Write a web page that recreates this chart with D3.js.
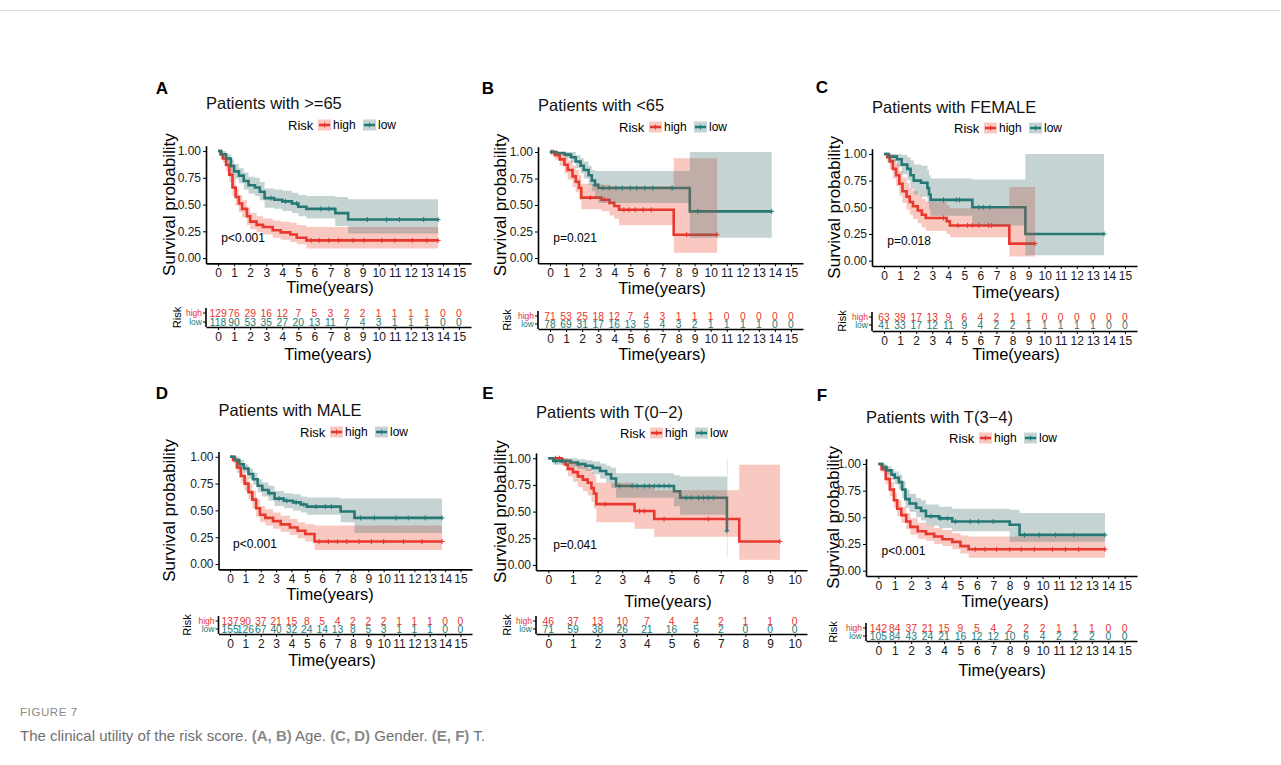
<!DOCTYPE html>
<html>
<head>
<meta charset="utf-8">
<title>Figure 7 - risk score by subgroup</title>
<script src="https://cdn.jsdelivr.net/npm/d3@7"></script>
<style>
body { margin: 0; background: #fff; }
svg text { font-family: "Liberation Sans", Arial, sans-serif; }
</style>
</head>
<body>
<svg id="fig" width="1281" height="765"></svg>
<script>
// colours
const RED = "#E8332E", TEAL = "#1D7B78";
const RED_BAND = "#EC4A30", TEAL_BAND = "#3F6F6E";

const ticks15 = [0,1,2,3,4,5,6,7,8,9,10,11,12,13,14,15];
const ticks10 = [0,1,2,3,4,5,6,7,8,9,10];
const yTicks = [0, 0.25, 0.5, 0.75, 1];

// KM steps: [time, surv, lower, upper]
// A: >=65
const aHigh = [[0,1,1,1],[0.15,0.97,0.94,1],[0.3,0.93,0.89,0.98],[0.5,0.87,0.81,0.93],[0.7,0.78,0.71,0.85],
  [0.9,0.66,0.58,0.74],[1.1,0.57,0.49,0.65],[1.3,0.51,0.43,0.59],[1.5,0.46,0.38,0.54],[1.8,0.39,0.31,0.47],
  [2.0,0.34,0.27,0.42],[2.4,0.31,0.24,0.39],[2.8,0.29,0.22,0.37],[3.4,0.26,0.19,0.35],[3.9,0.24,0.17,0.34],
  [4.5,0.22,0.15,0.33],[4.9,0.19,0.13,0.31],[5.5,0.165,0.09,0.29],[13.7,0.165,0.09,0.29]];
const aLow = [[0,1,1,1],[0.2,0.97,0.94,1],[0.5,0.93,0.88,0.97],[0.8,0.86,0.8,0.92],[1.0,0.81,0.74,0.88],
  [1.3,0.77,0.7,0.84],[1.6,0.72,0.64,0.8],[1.9,0.68,0.6,0.76],[2.3,0.66,0.58,0.75],[2.6,0.62,0.54,0.71],
  [2.9,0.56,0.47,0.65],[3.5,0.545,0.46,0.64],[4.0,0.53,0.44,0.63],[4.6,0.51,0.42,0.61],[5.0,0.48,0.39,0.59],
  [5.5,0.46,0.37,0.58],[7.3,0.42,0.3,0.57],[8.1,0.36,0.23,0.55],[13.7,0.36,0.23,0.55]];
const aHighCens = [5.8,6.3,6.9,7.5,8.4,9.1,10.2,11.0,12.1,13.0,13.7];
const aLowCens = [3.3,4.2,4.9,6.4,6.9,9.3,10.5,11.3,12.8,13.7];
const aRiskHigh = [129,76,29,16,12,7,5,3,2,2,1,1,1,1,0,0];
const aRiskLow = [118,90,53,35,27,20,13,11,7,4,3,1,1,1,0,0];

// B: <65
const bHigh = [[0,1,1,1],[0.3,0.97,0.93,1],[0.6,0.93,0.87,0.99],[0.9,0.88,0.8,0.96],[1.1,0.83,0.74,0.92],
  [1.4,0.77,0.67,0.87],[1.6,0.72,0.62,0.83],[1.8,0.66,0.55,0.78],[1.95,0.57,0.46,0.7],[3.2,0.55,0.44,0.69],
  [3.7,0.52,0.4,0.68],[4.0,0.49,0.37,0.68],[4.3,0.455,0.31,0.68],[7.7,0.22,0.05,0.94],[10.4,0.22,0.05,0.94]];
const bLow = [[0,1,1,1],[0.4,0.99,0.97,1],[0.9,0.975,0.94,1],[1.3,0.95,0.9,1],[1.6,0.91,0.85,0.97],
  [1.9,0.87,0.8,0.94],[2.1,0.83,0.75,0.91],[2.4,0.78,0.69,0.87],[2.6,0.73,0.63,0.83],[2.8,0.69,0.57,0.82],
  [3.0,0.66,0.52,0.82],[8.7,0.44,0.19,1],[13.8,0.44,0.19,1]];
const bHighCens = [0.2,2.5,3.4,4.6,4.9,5.3,5.8,6.3,8.5,10.4];
const bLowCens = [0.1,2.8,3.3,3.7,4.1,4.5,5.0,5.4,5.9,6.4,7.6,9.2,13.8];
const bRiskHigh = [71,53,25,18,12,7,4,3,1,1,1,0,0,0,0,0];
const bRiskLow = [78,69,31,17,16,13,5,4,3,2,1,1,1,1,0,0];

// C: FEMALE
const cHigh = [[0,1,1,1],[0.2,0.97,0.92,1],[0.35,0.93,0.86,1],[0.55,0.86,0.77,0.95],[0.75,0.8,0.7,0.91],
  [0.95,0.72,0.61,0.84],[1.15,0.65,0.54,0.78],[1.4,0.6,0.48,0.73],[1.6,0.55,0.43,0.68],[1.8,0.51,0.39,0.65],
  [2.1,0.47,0.35,0.62],[2.35,0.43,0.31,0.58],[2.6,0.4,0.28,0.55],[3.9,0.37,0.25,0.52],[4.1,0.33,0.22,0.49],
  [7.8,0.16,0.04,0.69],[9.4,0.16,0.04,0.69]];
const cLow = [[0,1,1,1],[0.3,0.975,0.93,1],[0.8,0.95,0.88,1],[1.1,0.9,0.81,0.99],[1.45,0.86,0.75,0.97],
  [1.65,0.8,0.68,0.94],[1.85,0.75,0.62,0.9],[2.3,0.73,0.6,0.89],[2.7,0.68,0.54,0.85],[2.8,0.62,0.48,0.8],
  [2.9,0.57,0.42,0.77],[5.5,0.5,0.33,0.76],[8.8,0.25,0.05,1],[13.7,0.25,0.05,1]];
const cHighCens = [3.7,4.6,5.2,5.5,5.9,6.5,6.7,9.4];
const cLowCens = [3.7,4.5,4.7,5.9,6.2,6.6,13.7];
const cRiskHigh = [63,39,17,13,9,6,4,2,1,1,0,0,0,0,0,0];
const cRiskLow = [41,33,17,12,11,9,4,2,2,1,1,1,1,1,0,0];

// D: MALE
const dHigh = [[0,1,1,1],[0.2,0.97,0.94,1],[0.45,0.9,0.85,0.95],[0.7,0.82,0.76,0.88],[0.95,0.75,0.68,0.82],
  [1.2,0.67,0.6,0.75],[1.45,0.6,0.52,0.68],[1.7,0.52,0.44,0.6],[1.95,0.46,0.39,0.54],[2.3,0.43,0.36,0.51],
  [2.8,0.4,0.33,0.48],[3.3,0.37,0.3,0.45],[3.9,0.34,0.27,0.42],[4.4,0.31,0.24,0.39],[4.9,0.28,0.21,0.37],
  [5.5,0.21,0.13,0.36],[13.8,0.21,0.13,0.36]];
const dLow = [[0,1,1,1],[0.3,0.97,0.95,1],[0.6,0.93,0.9,0.97],[0.9,0.89,0.85,0.93],[1.2,0.84,0.79,0.89],
  [1.5,0.79,0.74,0.85],[1.8,0.73,0.67,0.79],[2.1,0.69,0.63,0.76],[2.5,0.66,0.59,0.73],[2.9,0.61,0.54,0.68],
  [3.5,0.59,0.52,0.66],[4.1,0.575,0.5,0.65],[4.6,0.555,0.48,0.63],[5.0,0.535,0.46,0.62],[7.2,0.49,0.39,0.61],
  [8.1,0.43,0.29,0.61],[13.8,0.43,0.29,0.61]];
const dHighCens = [5.8,6.4,7.0,7.6,8.4,9.2,10.0,11.3,12.5,13.8];
const dLowCens = [2.6,3.2,3.7,4.3,4.8,5.6,6.2,6.6,8.5,9.4,10.8,11.6,12.7,13.8];
const dRiskHigh = [137,90,37,21,15,8,5,4,2,2,2,1,1,1,0,0];
const dRiskLow = [155,126,67,40,32,24,14,13,8,5,3,1,1,1,0,0];

// E: T(0-2)
const eHigh = [[0,1,1,1],[0.55,0.97,0.93,1],[0.7,0.94,0.88,1],[0.8,0.9,0.83,0.98],[1.0,0.87,0.78,0.96],
  [1.2,0.83,0.73,0.94],[1.4,0.8,0.69,0.92],[1.6,0.77,0.65,0.9],[1.75,0.72,0.59,0.87],[1.85,0.67,0.53,0.84],
  [1.95,0.57,0.4,0.77],[3.5,0.505,0.34,0.73],[4.3,0.43,0.265,0.7],[7.75,0.22,0.05,0.94],[9.4,0.22,0.05,0.94]];
const eLow = [[0,1,1,1],[0.2,0.975,0.94,1],[0.9,0.96,0.92,1],[1.2,0.945,0.9,0.99],[1.5,0.93,0.88,0.98],
  [1.8,0.91,0.85,0.97],[2.1,0.88,0.81,0.95],[2.35,0.85,0.77,0.93],[2.55,0.81,0.72,0.91],[2.75,0.74,0.63,0.86],
  [5.1,0.69,0.55,0.84],[5.35,0.63,0.47,0.83],[7.25,0.32,0.07,0.99],[7.27,0.32,0.07,0.99]];
const eHighCens = [0.3,0.45,2.3,3.7,3.9,4.7,6.5,9.4];
const eLowCens = [0.3,0.6,1.2,2.9,3.4,3.6,3.9,4.1,4.3,4.5,4.7,4.9,5.6,5.8,6.1,6.3,6.5,6.7,7.25];
const eRiskHigh = [46,37,13,10,7,4,4,2,1,1,0];
const eRiskLow = [71,59,38,26,21,16,5,2,0,0,0];

// F: T(3-4)
const fHigh = [[0,1,1,1],[0.2,0.95,0.92,0.99],[0.45,0.86,0.81,0.92],[0.7,0.76,0.7,0.83],[0.95,0.66,0.59,0.73],
  [1.15,0.58,0.51,0.66],[1.4,0.52,0.45,0.6],[1.7,0.46,0.39,0.54],[1.95,0.41,0.34,0.49],[2.4,0.37,0.3,0.45],
  [2.9,0.345,0.28,0.42],[3.4,0.32,0.25,0.4],[3.9,0.295,0.23,0.38],[4.5,0.27,0.2,0.35],[5.0,0.23,0.16,0.33],
  [5.5,0.2,0.12,0.32],[13.8,0.2,0.12,0.32]];
const fLow = [[0,1,1,1],[0.25,0.97,0.94,1],[0.5,0.94,0.9,0.98],[0.8,0.9,0.85,0.95],[1.0,0.87,0.81,0.93],
  [1.25,0.83,0.76,0.9],[1.45,0.76,0.68,0.84],[1.65,0.67,0.59,0.76],[1.9,0.63,0.55,0.72],[2.3,0.59,0.5,0.68],
  [2.6,0.56,0.47,0.66],[2.9,0.51,0.42,0.62],[3.7,0.49,0.4,0.6],[4.5,0.46,0.37,0.58],[8.0,0.43,0.27,0.57],
  [8.6,0.335,0.27,0.54],[13.8,0.335,0.27,0.54]];
const fHighCens = [5.9,6.5,7.2,8.0,8.7,9.5,10.6,11.4,12.2,13.8];
const fLowCens = [3.2,3.8,4.2,4.7,5.6,6.1,7.0,8.9,9.8,10.8,11.9,13.8];
const fRiskHigh = [142,84,37,21,15,9,5,4,2,2,2,1,1,1,0,0];
const fRiskLow = [105,84,43,24,21,16,12,12,10,6,4,2,2,2,0,0];

// layout of the six panels
const panels = [
  {letter:"A", lx:162, ly:88, title:"Patients with >=65", ty:103, high:aHigh, low:aLow, hc:aHighCens, lc:aLowCens,
   rh:aRiskHigh, rl:aRiskLow, ticks:ticks15, p:"p<0.001", ox:206, oy:263.4, w:265, h:117.7,
   legX:288, legY:125, ylabX:169, xtX:330, xtY:287,
   rk:{hi:313, lo:322, ax:327, labX:177, tX:328, tY:354}},
  {letter:"B", lx:488, ly:88, title:"Patients with <65", ty:105, high:bHigh, low:bLow, hc:bHighCens, lc:bLowCens,
   rh:bRiskHigh, rl:bRiskLow, ticks:ticks15, p:"p=0.021", ox:538, oy:263.3, w:265, h:116.6,
   legX:619, legY:127, ylabX:500, xtX:662, xtY:288,
   rk:{hi:316, lo:324, ax:329, labX:507, tX:662, tY:354}},
  {letter:"C", lx:822, ly:87, title:"Patients with FEMALE", ty:107, high:cHigh, low:cLow, hc:cHighCens, lc:cLowCens,
   rh:cRiskHigh, rl:cRiskLow, ticks:ticks15, p:"p=0.018", ox:872, oy:266, w:265, h:117.4,
   legX:954, legY:128, ylabX:834, xtX:1016, xtY:292,
   rk:{hi:317, lo:325, ax:331, labX:842, tX:1016, tY:354}},
  {letter:"D", lx:162, ly:393, title:"Patients with MALE", ty:410, high:dHigh, low:dLow, hc:dHighCens, lc:dLowCens,
   rh:dRiskHigh, rl:dRiskLow, ticks:ticks15, p:"p<0.001", ox:218.5, oy:569.4, w:253.5, h:118,
   legX:300, legY:432, ylabX:169, xtX:330, xtY:594,
   rk:{hi:621, lo:629, ax:634, labX:187, tX:332, tY:660}},
  {letter:"E", lx:488, ly:393, title:"Patients with T(0\u22122)", ty:412, high:eHigh, low:eLow, hc:eHighCens, lc:eLowCens,
   rh:eRiskHigh, rl:eRiskLow, ticks:ticks10, p:"p=0.041", ox:536, oy:570.3, w:271, h:117.4,
   legX:620, legY:433, ylabX:500, xtX:668, xtY:601,
   rk:{hi:621, lo:629, ax:634, labX:507, tX:null, tY:null}},
  {letter:"F", lx:822, ly:395, title:"Patients with T(3\u22124)", ty:417, high:fHigh, low:fLow, hc:fHighCens, lc:fLowCens,
   rh:fRiskHigh, rl:fRiskLow, ticks:ticks15, p:"p<0.001", ox:866, oy:576, w:271, h:117.4,
   legX:949, legY:438, ylabX:833, xtX:1005, xtY:601,
   rk:{hi:628, lo:636, ax:641, labX:833, tX:1002, tY:670}}
];

const svg = d3.select("#fig");

// thin rule at the top of the page
svg.append("line").attr("x1", 0).attr("x2", 1281).attr("y1", 10.5).attr("y2", 10.5)
  .attr("stroke", "#dedede");

// step value at time t
function survAt(steps, t) {
  let v = steps[0][1];
  for (const s of steps) { if (s[0] <= t) v = s[1]; }
  return v;
}

function styleAxis(g, size) {
  g.attr("font-family", "Liberation Sans, Arial, sans-serif").attr("font-size", size);
  g.selectAll("text").attr("fill", "#1a1a1a");
  g.selectAll("line").attr("stroke", "#000");
  g.select(".domain").attr("stroke", "#000").attr("stroke-width", 1.6);
}

function drawPanel(p) {
  const xmax = p.ticks[p.ticks.length - 1];
  const x = d3.scaleLinear().domain([-0.05 * xmax, 1.05 * xmax]).range([p.ox, p.ox + p.w]);
  const y = d3.scaleLinear().domain([-0.05, 1.05]).range([p.oy, p.oy - p.h]);
  const g = svg.append("g");

  // panel letter and title
  g.append("text").attr("x", p.lx).attr("y", p.ly).attr("dy", "0.35em").attr("text-anchor", "middle")
    .attr("font-size", 17).attr("font-weight", "bold").text(p.letter);
  g.append("text").attr("x", p.ox).attr("y", p.ty).attr("dy", "0.35em")
    .attr("font-size", 16.5).attr("fill", "#111").text(p.title);

  // legend
  const leg = g.append("g").attr("transform", `translate(${p.legX},${p.legY})`);
  leg.append("text").attr("x", 0).attr("dy", "0.35em").attr("font-size", 13).text("Risk");
  [[30, "high", RED, RED_BAND], [75, "low", TEAL, TEAL_BAND]].forEach(([dx, lab, c, b]) => {
    leg.append("rect").attr("x", dx).attr("y", -5.5).attr("width", 13).attr("height", 11)
      .attr("fill", b).attr("fill-opacity", 0.3);
    leg.append("line").attr("x1", dx + 1).attr("x2", dx + 12).attr("y1", 0).attr("y2", 0)
      .attr("stroke", c).attr("stroke-width", 2.5);
    leg.append("line").attr("x1", dx + 6.5).attr("x2", dx + 6.5).attr("y1", -2.5).attr("y2", 2.5)
      .attr("stroke", c).attr("stroke-width", 1);
    leg.append("text").attr("x", dx + 15).attr("dy", "0.35em").attr("font-size", 12).text(lab);
  });

  // curves, then confidence ribbons on top, then censor marks
  const line = d3.line().curve(d3.curveStepAfter).x(d => x(d[0])).y(d => y(d[1]));
  const area = d3.area().curve(d3.curveStepAfter).x(d => x(d[0])).y0(d => y(d[2])).y1(d => y(d[3]));
  const groups = [[p.high, p.hc, RED, RED_BAND], [p.low, p.lc, TEAL, TEAL_BAND]];
  groups.forEach(([s, , c]) => {
    g.append("path").attr("d", line(s)).attr("fill", "none").attr("stroke", c).attr("stroke-width", 2.6);
  });
  groups.forEach(([s, , , b]) => {
    g.append("path").attr("d", area(s)).attr("fill", b).attr("fill-opacity", 0.3);
  });
  groups.forEach(([s, cens, c]) => {
    g.append("g").selectAll("path").data(cens).join("path")
      .attr("d", t => `M${x(t) - 2.5},${y(survAt(s, t))}h5M${x(t)},${y(survAt(s, t)) - 2.5}v5`)
      .attr("stroke", c).attr("stroke-width", 1);
  });

  // axes
  g.append("g").attr("transform", `translate(${p.ox},0)`)
    .call(d3.axisLeft(y).tickValues(yTicks).tickFormat(d3.format(".2f")).tickSize(3).tickSizeOuter(0).tickPadding(2))
    .call(a => styleAxis(a, 12));
  g.append("g").attr("transform", `translate(0,${p.oy})`)
    .call(d3.axisBottom(x).tickValues(p.ticks).tickSize(3).tickSizeOuter(0).tickPadding(2))
    .call(a => styleAxis(a, 12));

  g.append("text").attr("transform", `translate(${p.ylabX},${p.oy - p.h / 2}) rotate(-90)`)
    .attr("dy", "0.35em").attr("text-anchor", "middle").attr("font-size", 17).text("Survival probability");
  g.append("text").attr("x", p.xtX).attr("y", p.xtY).attr("dy", "0.35em").attr("text-anchor", "middle")
    .attr("font-size", 16.5).text("Time(years)");

  g.append("text").attr("x", x(0.2)).attr("y", y(0.19)).attr("dy", "0.35em")
    .attr("font-size", 12).text(p.p);

  // number-at-risk table
  const r = p.rk;
  g.append("g").attr("transform", `translate(0,${r.ax})`)
    .call(d3.axisBottom(x).tickValues(p.ticks).tickSize(3).tickSizeOuter(0).tickPadding(2))
    .call(a => styleAxis(a, 12));
  g.append("line").attr("x1", p.ox).attr("x2", p.ox).attr("y1", r.hi - 5).attr("y2", r.ax)
    .attr("stroke", "#000").attr("stroke-width", 1.6);
  [[r.hi, "high", RED, p.rh], [r.lo, "low", TEAL, p.rl]].forEach(([ry, lab, c, vals]) => {
    g.append("line").attr("x1", p.ox - 3).attr("x2", p.ox).attr("y1", ry).attr("y2", ry).attr("stroke", "#000");
    g.append("text").attr("x", p.ox - 4).attr("y", ry).attr("dy", "0.35em").attr("text-anchor", "end")
      .attr("font-size", 8.5).attr("fill", c).text(lab);
    g.append("g").selectAll("text").data(vals).join("text")
      .attr("x", (v, i) => x(p.ticks[i])).attr("y", ry).attr("dy", "0.35em").attr("text-anchor", "middle")
      .attr("font-size", 10.3).attr("fill", c).text(v => v);
  });
  g.append("text").attr("transform", `translate(${r.labX},${(r.hi + r.lo) / 2}) rotate(-90)`)
    .attr("dy", "0.35em").attr("text-anchor", "middle").attr("font-size", 11).text("Risk");
  if (r.tX !== null) {
    g.append("text").attr("x", r.tX).attr("y", r.tY).attr("dy", "0.35em").attr("text-anchor", "middle")
      .attr("font-size", 16.5).text("Time(years)");
  }
}

panels.forEach(drawPanel);

// caption
svg.append("text").attr("x", 20).attr("y", 716).attr("font-family", "Open Sans, sans-serif")
  .attr("font-size", 11.5).attr("letter-spacing", 0.6).attr("fill", "#8a8a8a").text("FIGURE 7");
const cap = svg.append("text").attr("x", 20).attr("y", 741).attr("font-family", "Open Sans, sans-serif")
  .attr("font-size", 15).attr("fill", "#6f6f6f");
[["The clinical utility of the risk score. ", false], ["(A, B)", true], [" Age. ", false],
 ["(C, D)", true], [" Gender. ", false], ["(E, F)", true], [" T.", false]].forEach(([t, b]) => {
  cap.append("tspan").attr("font-weight", b ? "bold" : "normal").attr("fill", b ? "#8a8a8a" : null).text(t);
});
</script>
</body>
</html>
